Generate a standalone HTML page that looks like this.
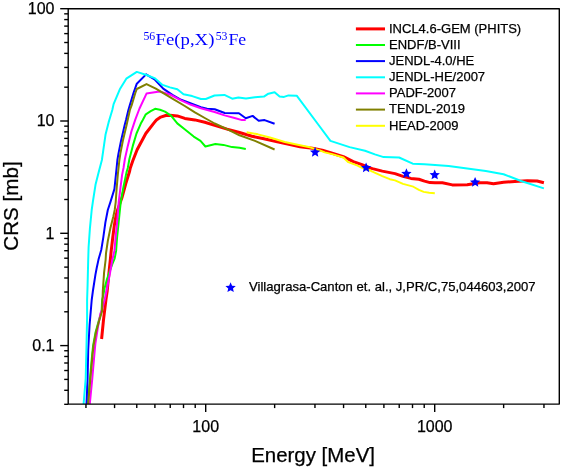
<!DOCTYPE html><html><head><meta charset="utf-8"><style>html,body{margin:0;padding:0;background:#fff}svg{display:block}svg{will-change:transform}text{font-family:"Liberation Sans",sans-serif;fill:#000;stroke:#000;stroke-width:0.25px}</style></head><body>
<svg width="565" height="469" viewBox="0 0 565 469">
<rect width="565" height="469" fill="#fff"/>
<defs><clipPath id="c"><rect x="68.2" y="8.7" width="491.1" height="395.4"/></clipPath></defs>
<g clip-path="url(#c)" fill="none" stroke-linejoin="round" stroke-linecap="butt">
<polyline stroke="#ff0000" stroke-width="3.0" points="101.6,339.0 103.5,319.8 105.9,300.0 107.2,291.0 109.0,272.4 110.3,260.0 111.2,250.9 112.8,237.3 114.4,224.9 115.6,218.0 117.2,211.0 122.1,197.2 125.8,183.5 129.6,171.2 130.3,168.0 132.8,160.8 137.1,149.7 145.8,133.5 154.4,122.4 156.4,120.0 160.7,117.1 165.7,115.5 170.0,115.3 177.3,115.9 184.8,118.4 194.9,119.9 204.8,122.3 214.7,125.4 227.1,129.1 239.5,132.5 251.9,136.3 263.9,138.7 277.3,141.7 292.2,145.0 300.0,146.7 312.4,148.3 322.3,150.2 332.2,153.2 343.4,156.7 353.3,161.6 362.0,164.7 370.0,167.8 372.4,168.6 382.3,171.1 395.0,173.6 403.0,176.4 410.9,178.4 418.9,179.3 424.5,181.1 430.0,182.6 435.0,182.8 442.4,182.8 452.3,184.9 467.2,184.7 479.6,182.8 487.0,182.8 493.5,183.7 503.6,182.2 514.8,181.6 527.2,180.7 537.1,181.0 543.9,182.8"/>
<polyline stroke="#00ff00" stroke-width="2.0" points="87.8,404.0 90.0,378.5 92.2,354.0 93.1,345.8 95.6,332.2 98.7,321.1 101.6,311.2 102.1,300.0 103.2,296.0 104.5,288.5 107.0,279.0 112.2,264.5 114.7,258.3 116.1,250.9 117.1,237.3 118.4,224.9 119.9,210.0 120.9,200.9 123.4,187.3 126.5,172.4 127.8,168.0 129.4,159.0 132.8,145.9 136.5,133.5 140.8,123.6 142.8,120.0 145.8,114.3 150.7,111.2 155.1,108.8 160.0,109.7 165.0,111.6 171.2,115.9 177.3,123.4 185.0,129.5 193.7,136.6 200.5,140.9 205.4,146.5 215.4,144.0 223.4,144.9 232.1,147.1 239.5,147.7 245.8,148.9"/>
<polyline stroke="#0000ff" stroke-width="2.0" points="86.5,404.0 87.6,378.5 88.2,350.0 89.6,324.8 91.7,300.0 92.9,291.0 95.4,274.9 96.7,268.0 98.5,259.6 101.3,249.7 103.3,237.3 105.4,222.4 107.8,210.0 110.4,202.1 114.4,189.1 115.9,174.9 117.4,160.0 118.5,153.4 121.0,141.0 124.7,124.9 126.0,120.0 128.4,110.0 129.7,105.4 133.5,93.0 136.8,83.7 146.1,74.4 154.5,79.3 163.2,88.6 172.4,94.9 181.1,99.8 191.0,103.5 200.9,107.3 207.1,108.7 214.7,109.2 224.7,113.0 238.9,113.3 245.8,118.2 252.6,115.9 258.7,120.8 264.6,120.1 274.6,123.8"/>
<polyline stroke="#00ffff" stroke-width="2.0" points="83.6,404.0 85.7,378.5 86.4,350.0 87.1,318.0 87.1,300.0 87.6,284.8 88.2,260.0 88.6,247.2 89.9,228.6 91.7,210.0 93.0,200.9 95.5,184.8 98.6,172.4 101.9,160.0 103.2,150.9 105.5,134.8 108.6,122.4 109.3,120.0 112.3,110.0 113.6,104.1 119.8,89.3 126.3,78.7 136.8,71.9 146.5,75.0 154.5,78.1 162.6,84.9 169.9,87.4 177.3,89.3 183.5,94.3 192.2,96.1 200.9,99.0 205.8,99.0 214.5,95.5 224.4,94.9 232.2,98.7 238.4,97.4 246.0,98.4 254.9,97.2 263.9,96.6 268.4,93.7 274.6,92.2 279.6,96.6 284.0,96.9 288.5,95.4 296.7,95.7 318.6,125.0 330.4,140.9 349.6,147.1 365.0,150.7 374.9,154.4 383.6,157.1 399.1,157.5 412.7,163.7 424.5,164.3 435.0,164.9 448.6,166.1 467.2,168.6 485.8,171.1 503.6,174.2 521.0,181.0 543.9,188.4"/>
<polyline stroke="#ff00ff" stroke-width="2.0" points="89.8,404.0 92.3,378.5 94.6,352.0 95.4,343.4 97.9,327.3 100.4,313.6 102.2,309.0 104.7,299.7 107.2,287.3 109.7,274.9 112.1,261.0 114.4,250.9 115.6,237.3 116.9,224.9 118.1,210.0 118.7,202.1 120.3,189.1 122.1,174.9 123.5,168.0 124.9,159.0 127.8,145.9 131.5,131.1 135.2,119.9 139.5,108.5 146.5,93.6 159.5,91.5 170.0,94.5 181.1,100.4 191.0,104.8 200.9,108.3 214.6,112.0 224.6,115.4 234.6,118.0 242.0,120.1 245.7,119.9"/>
<polyline stroke="#808000" stroke-width="2.0" points="88.2,404.0 90.4,378.5 92.6,354.0 93.5,345.8 96.0,332.2 99.1,321.1 102.0,311.2 102.5,300.0 102.8,291.0 104.1,272.4 105.6,260.0 106.0,253.4 107.8,241.0 110.3,228.6 113.4,216.2 114.7,210.0 115.7,202.1 116.6,189.1 117.8,174.9 119.4,160.0 120.4,153.4 122.8,141.0 126.6,124.9 129.9,110.0 131.6,105.4 135.3,93.0 136.8,89.0 146.5,84.1 155.8,88.6 160.0,91.2 172.4,98.6 184.8,106.0 194.9,112.4 204.8,118.0 214.7,123.5 227.1,129.1 239.5,135.3 255.0,140.9 274.6,149.5"/>
<polyline stroke="#ffff00" stroke-width="1.9" points="246.6,132.2 257.9,134.3 269.9,137.5 284.8,142.0 300.0,145.2 309.9,147.3 319.8,150.4 324.8,152.3 332.2,154.1 343.4,157.5 348.3,162.2 357.0,165.3 362.0,167.8 370.0,170.4 372.4,171.7 382.3,176.1 389.8,179.2 395.0,180.4 403.0,183.9 407.7,185.1 413.3,186.7 418.9,189.9 423.7,191.9 429.2,192.7 434.8,193.3"/>
</g>
<polygon points="315.10,146.90 316.57,150.33 320.28,150.67 317.48,153.12 318.30,156.76 315.10,154.85 311.90,156.76 312.72,153.12 309.92,150.67 313.63,150.33" fill="#0000ff"/>
<polygon points="366.10,162.40 367.57,165.83 371.28,166.17 368.48,168.62 369.30,172.26 366.10,170.35 362.90,172.26 363.72,168.62 360.92,166.17 364.63,165.83" fill="#0000ff"/>
<polygon points="406.40,168.20 407.87,171.63 411.58,171.97 408.78,174.42 409.60,178.06 406.40,176.15 403.20,178.06 404.02,174.42 401.22,171.97 404.93,171.63" fill="#0000ff"/>
<polygon points="434.70,169.50 436.17,172.93 439.88,173.27 437.08,175.72 437.90,179.36 434.70,177.45 431.50,179.36 432.32,175.72 429.52,173.27 433.23,172.93" fill="#0000ff"/>
<polygon points="475.10,176.90 476.57,180.33 480.28,180.67 477.48,183.12 478.30,186.76 475.10,184.85 471.90,186.76 472.72,183.12 469.92,180.67 473.63,180.33" fill="#0000ff"/>
<g stroke="#000" stroke-width="1.4" fill="none" stroke-linejoin="round">
<rect x="68.2" y="8.7" width="491.1" height="395.4"/>
<line x1="60.2" y1="8.70" x2="68.2" y2="8.70"/>
<line x1="60.2" y1="121.00" x2="68.2" y2="121.00"/>
<line x1="60.2" y1="233.30" x2="68.2" y2="233.30"/>
<line x1="60.2" y1="345.60" x2="68.2" y2="345.60"/>
<line x1="64.2" y1="87.19" x2="68.2" y2="87.19"/>
<line x1="64.2" y1="67.42" x2="68.2" y2="67.42"/>
<line x1="64.2" y1="53.39" x2="68.2" y2="53.39"/>
<line x1="64.2" y1="42.51" x2="68.2" y2="42.51"/>
<line x1="64.2" y1="33.61" x2="68.2" y2="33.61"/>
<line x1="64.2" y1="26.10" x2="68.2" y2="26.10"/>
<line x1="64.2" y1="19.58" x2="68.2" y2="19.58"/>
<line x1="64.2" y1="13.84" x2="68.2" y2="13.84"/>
<line x1="64.2" y1="199.49" x2="68.2" y2="199.49"/>
<line x1="64.2" y1="179.72" x2="68.2" y2="179.72"/>
<line x1="64.2" y1="165.69" x2="68.2" y2="165.69"/>
<line x1="64.2" y1="154.81" x2="68.2" y2="154.81"/>
<line x1="64.2" y1="145.91" x2="68.2" y2="145.91"/>
<line x1="64.2" y1="138.40" x2="68.2" y2="138.40"/>
<line x1="64.2" y1="131.88" x2="68.2" y2="131.88"/>
<line x1="64.2" y1="126.14" x2="68.2" y2="126.14"/>
<line x1="64.2" y1="311.79" x2="68.2" y2="311.79"/>
<line x1="64.2" y1="292.02" x2="68.2" y2="292.02"/>
<line x1="64.2" y1="277.99" x2="68.2" y2="277.99"/>
<line x1="64.2" y1="267.11" x2="68.2" y2="267.11"/>
<line x1="64.2" y1="258.21" x2="68.2" y2="258.21"/>
<line x1="64.2" y1="250.70" x2="68.2" y2="250.70"/>
<line x1="64.2" y1="244.18" x2="68.2" y2="244.18"/>
<line x1="64.2" y1="238.44" x2="68.2" y2="238.44"/>
<line x1="64.2" y1="404.32" x2="68.2" y2="404.32"/>
<line x1="64.2" y1="390.29" x2="68.2" y2="390.29"/>
<line x1="64.2" y1="379.41" x2="68.2" y2="379.41"/>
<line x1="64.2" y1="370.51" x2="68.2" y2="370.51"/>
<line x1="64.2" y1="363.00" x2="68.2" y2="363.00"/>
<line x1="64.2" y1="356.48" x2="68.2" y2="356.48"/>
<line x1="64.2" y1="350.74" x2="68.2" y2="350.74"/>
<line x1="205.70" y1="404.1" x2="205.70" y2="412.1"/>
<line x1="434.70" y1="404.1" x2="434.70" y2="412.1"/>
<line x1="85.96" y1="404.1" x2="85.96" y2="408.1"/>
<line x1="114.57" y1="404.1" x2="114.57" y2="408.1"/>
<line x1="136.76" y1="404.1" x2="136.76" y2="408.1"/>
<line x1="154.90" y1="404.1" x2="154.90" y2="408.1"/>
<line x1="170.23" y1="404.1" x2="170.23" y2="408.1"/>
<line x1="183.51" y1="404.1" x2="183.51" y2="408.1"/>
<line x1="195.22" y1="404.1" x2="195.22" y2="408.1"/>
<line x1="274.64" y1="404.1" x2="274.64" y2="408.1"/>
<line x1="314.96" y1="404.1" x2="314.96" y2="408.1"/>
<line x1="343.57" y1="404.1" x2="343.57" y2="408.1"/>
<line x1="365.76" y1="404.1" x2="365.76" y2="408.1"/>
<line x1="383.90" y1="404.1" x2="383.90" y2="408.1"/>
<line x1="399.23" y1="404.1" x2="399.23" y2="408.1"/>
<line x1="412.51" y1="404.1" x2="412.51" y2="408.1"/>
<line x1="424.22" y1="404.1" x2="424.22" y2="408.1"/>
<line x1="503.64" y1="404.1" x2="503.64" y2="408.1"/>
<line x1="543.96" y1="404.1" x2="543.96" y2="408.1"/>
</g>
<text x="54.5" y="14.0" font-size="16" text-anchor="end">100</text>
<text x="54.5" y="126.3" font-size="16" text-anchor="end">10</text>
<text x="54.5" y="238.6" font-size="16" text-anchor="end">1</text>
<text x="54.5" y="350.9" font-size="16" text-anchor="end">0.1</text>
<text x="205.7" y="431.6" font-size="16" text-anchor="middle">100</text>
<text x="434.7" y="431.6" font-size="16" text-anchor="middle">1000</text>
<text x="313.1" y="462.4" font-size="20.45" text-anchor="middle">Energy [MeV]</text>
<text transform="translate(17.9,206) rotate(-90)" font-size="20.6" text-anchor="middle">CRS [mb]</text>
<text x="143.4" y="39.9" font-size="11.8" style="font-family:'Liberation Serif',serif;fill:#0000ff;stroke:none">56</text>
<text x="155.6" y="45.4" font-size="15.8" style="font-family:'Liberation Serif',serif;fill:#0000ff;stroke:none" textLength="58.8" lengthAdjust="spacingAndGlyphs">Fe(p,X)</text>
<text x="215.7" y="39.9" font-size="11.8" style="font-family:'Liberation Serif',serif;fill:#0000ff;stroke:none">53</text>
<text x="228.5" y="45.4" font-size="15.8" style="font-family:'Liberation Serif',serif;fill:#0000ff;stroke:none" textLength="17.7" lengthAdjust="spacingAndGlyphs">Fe</text>
<line x1="355.9" y1="28.9" x2="385.0" y2="28.9" stroke="#ff0000" stroke-width="3.0"/>
<text x="389.0" y="33.1" font-size="13">INCL4.6-GEM (PHITS)</text>
<line x1="355.9" y1="45.0" x2="385.0" y2="45.0" stroke="#00ff00" stroke-width="2.0"/>
<text x="389.0" y="49.2" font-size="13">ENDF/B-VIII</text>
<line x1="355.9" y1="61.1" x2="385.0" y2="61.1" stroke="#0000ff" stroke-width="2.0"/>
<text x="389.0" y="65.2" font-size="13">JENDL-4.0/HE</text>
<line x1="355.9" y1="77.3" x2="385.0" y2="77.3" stroke="#00ffff" stroke-width="2.0"/>
<text x="389.0" y="81.3" font-size="13">JENDL-HE/2007</text>
<line x1="355.9" y1="93.4" x2="385.0" y2="93.4" stroke="#ff00ff" stroke-width="2.0"/>
<text x="389.0" y="97.3" font-size="13">PADF-2007</text>
<line x1="355.9" y1="109.6" x2="385.0" y2="109.6" stroke="#808000" stroke-width="2.0"/>
<text x="389.0" y="113.4" font-size="13">TENDL-2019</text>
<line x1="355.9" y1="125.8" x2="385.0" y2="125.8" stroke="#ffff00" stroke-width="2.0"/>
<text x="389.0" y="129.5" font-size="13">HEAD-2009</text>
<polygon points="230.60,282.20 232.07,285.63 235.78,285.97 232.98,288.42 233.80,292.06 230.60,290.15 227.40,292.06 228.22,288.42 225.42,285.97 229.13,285.63" fill="#0000ff"/>
<text x="249" y="291" font-size="12.6" textLength="286.6" lengthAdjust="spacingAndGlyphs">Villagrasa-Canton et. al., J,PR/C,75,044603,2007</text>
</svg></body></html>
